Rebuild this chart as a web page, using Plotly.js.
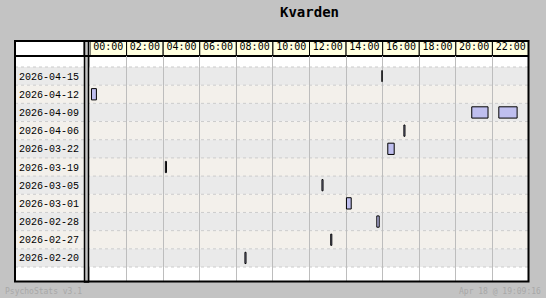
<!DOCTYPE html>
<html><head><meta charset="utf-8">
<script src="https://cdn.plot.ly/plotly-3.0.1.min.js"></script>
<style>html,body{margin:0;padding:0;background:#c3c3c3;}#c{width:546px;height:298px;}</style>
</head><body><div id="c"></div>
<script>
// Rows (top to bottom)
const rowDates = ['2026-04-15','2026-04-12','2026-04-09','2026-04-06','2026-03-22','2026-03-19','2026-03-05','2026-03-01','2026-02-28','2026-02-27','2026-02-20'];
// Sessions: date, start hour, end hour
const sessDates = ['2026-04-15','2026-04-12','2026-04-09','2026-04-09','2026-04-06','2026-03-22','2026-03-19','2026-03-05','2026-03-01','2026-02-28','2026-02-27','2026-02-20'];
const sessStart = [15.96, 0.08, 20.87, 22.35, 17.16, 16.28, 4.12, 12.68, 14.02, 15.68, 13.16, 8.47];
const sessEnd   = [15.97, 0.35, 21.76, 23.35, 17.22, 16.63, 4.18, 12.74, 14.28, 15.81, 13.22, 8.53];
const hourTicks = [0,2,4,6,8,10,12,14,16,18,20,22];
const hourLabels = ['00:00','02:00','04:00','06:00','08:00','10:00','12:00','14:00','16:00','18:00','20:00','22:00'];
const title = 'Kvarden';
const footLeft = 'PsychoStats v3.1';
const footRight = 'Apr 18 @ 19:09:16';

const W=546,H=298, L=90, R=17, T=56, B=16;
const pw=W-L-R, ph=H-T-B;
const px=x=>(x-L)/pw;            // pixel -> paper x
const py=y=>(H-B-y)/ph;          // pixel -> paper y
const mono='"DejaVu Sans Mono", monospace';

const shapes=[];
// label column white background
shapes.push({type:'rect',layer:'below',xref:'paper',yref:'paper',x0:px(15),x1:px(84),y0:0,y1:1,fillcolor:'#ffffff',line:{width:0}});
// row backgrounds
rowDates.forEach((d,i)=>{
  shapes.push({type:'rect',layer:'below',xref:'paper',yref:'y',x0:px(15),x1:1,y0:i-0.5,y1:i+0.5,
    fillcolor: i%2===0?'#eaeaea':'#f3f0eb', line:{width:0}});
});
// dashed row separators
for(let i=-1;i<rowDates.length;i++){
  shapes.push({type:'line',layer:'below',xref:'paper',yref:'y',x0:px(15),x1:1,y0:i+0.5,y1:i+0.5,
    line:{color:'#cccccc',width:1,dash:'3px,3px'}});
}
// header cells
hourTicks.forEach(h=>{
  shapes.push({type:'rect',layer:'below',xref:'x',yref:'paper',x0:h,x1:h+2,y0:1,y1:py(41),fillcolor:'#ffffe0',line:{color:'#000',width:1}});
});
// label header cell
shapes.push({type:'rect',layer:'below',xref:'paper',yref:'paper',x0:px(15),x1:px(84),y0:1,y1:py(41),fillcolor:'#ffffff',line:{color:'#000',width:1}});
// separator strip
shapes.push({type:'rect',layer:'below',xref:'paper',yref:'paper',x0:px(84.5),x1:px(88.5),y0:0,y1:py(41),fillcolor:'#c3c3c3',line:{color:'#000',width:1.5}});
// header bottom thick line
shapes.push({type:'line',layer:'below',xref:'paper',yref:'paper',x0:px(15),x1:1,y0:py(56),y1:py(56),line:{color:'#000',width:2}});
// outer border
shapes.push({type:'rect',xref:'paper',yref:'paper',x0:px(15),x1:px(528.5),y0:py(281.5),y1:py(41),line:{color:'#000',width:2},fillcolor:'rgba(0,0,0,0)'});

const trace={type:'bar',orientation:'h',y:sessDates,base:sessStart,
  x:sessStart.map((s,i)=>sessEnd[i]-s),width:0.62,
  marker:{color:'#bfbfef',line:{color:'#000',width:1}},hoverinfo:'skip'};

const layout={
  width:W,height:H,margin:{l:L,r:R,t:T,b:B},
  paper_bgcolor:'#c3c3c3',plot_bgcolor:'#ffffff',
  showlegend:false,
  title:{text:title,x:0.5,xref:'paper',xanchor:'center',y:1-12/H,yanchor:'middle',
    font:{family:mono,size:14,color:'#000',weight:'bold'}},
  xaxis:{range:[0,24],side:'top',tickvals:hourTicks.map(h=>h+1),ticktext:hourLabels,
    ticks:'',showgrid:false,zeroline:false,showline:false,ticklabelstandoff:3,
    tickfont:{family:mono,size:10,color:'#000'},
    minor:{tickvals:hourTicks.concat([24]),showgrid:true,gridcolor:'#bdbdbd',gridwidth:1,ticks:''}},
  yaxis:{type:'category',categoryorder:'array',categoryarray:rowDates,
    range:[rowDates.length-0.5+15/18.2,-0.5-11/18.2],
    ticks:'',showgrid:false,zeroline:false,showline:false,ticklabelstandoff:10,
    tickfont:{family:'"Liberation Mono", monospace',size:10,color:'#000'}},
  shapes:shapes,
  annotations:[
    {text:footLeft,xref:'paper',yref:'paper',x:px(3),y:py(291),xanchor:'left',yanchor:'middle',showarrow:false,
      font:{family:mono,size:8,color:'#a8a8a8'}},
    {text:footRight,xref:'paper',yref:'paper',x:px(543),y:py(291),xanchor:'right',yanchor:'middle',showarrow:false,
      font:{family:mono,size:8,color:'#a8a8a8'}}
  ]
};
Plotly.newPlot('c',[trace],layout,{staticPlot:true,displayModeBar:false});
</script></body></html>
